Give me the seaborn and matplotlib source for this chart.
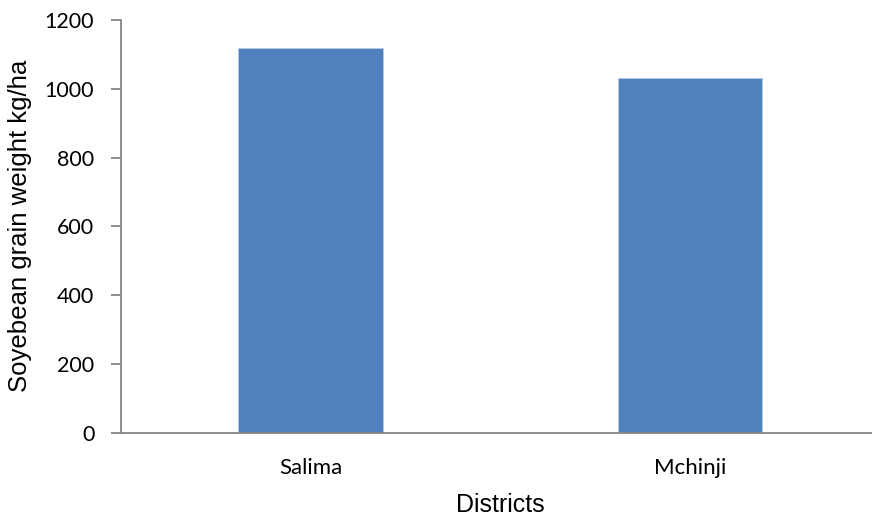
import matplotlib
matplotlib.use("Agg")
import matplotlib.pyplot as plt
import seaborn as sns
import pandas as pd

districts = ["Salima", "Mchinji"]
grain_weight = [1118, 1031]
y_ticks = [0, 200, 400, 600, 800, 1000, 1200]

df = pd.DataFrame({"District": districts, "Weight": grain_weight})

sns.set_theme(style="white")
plt.rcParams["font.family"] = ["Liberation Sans", "DejaVu Sans"]

fig = plt.figure(figsize=(8.72, 5.2), dpi=100)
ax = fig.add_axes([0.1384, 0.1679, 1.0089 - 0.1384, 0.9615 - 0.1679])

sns.barplot(data=df, x="District", y="Weight", color="#4F81BD", saturation=1,
            width=0.38, ax=ax, edgecolor="#b7c9e2", linewidth=0.6)

ax.set_xlim(-0.5, 1.5)
ax.set_ylim(0, 1200)
ax.set_yticks(y_ticks)

for side in ("top", "right"):
    ax.spines[side].set_visible(False)
for side in ("left", "bottom"):
    ax.spines[side].set_color("#868686")
    ax.spines[side].set_linewidth(1.3)

ax.tick_params(axis="y", which="major", left=True, length=7, width=1.3,
               color="#868686", pad=12)
ax.tick_params(axis="x", which="major", bottom=False, pad=12)

for lbl in ax.get_yticklabels():
    lbl.set_family(["Lato", "DejaVu Sans"])
    lbl.set_fontsize(15.5)
    lbl.set_color("black")
for lbl in ax.get_xticklabels():
    lbl.set_family(["Lato", "DejaVu Sans"])
    lbl.set_fontsize(16)
    lbl.set_color("black")

ax.set_xlabel("Districts", fontsize=18, color="black", labelpad=11)
ax.set_ylabel("Soyebean grain weight kg/ha", fontsize=18.5, color="black", labelpad=9)

fig.savefig("out.png", dpi=100)
